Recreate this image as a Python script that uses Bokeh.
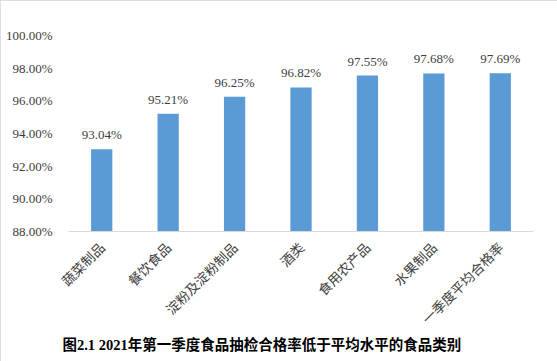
import math
from bokeh.plotting import figure
from bokeh.models import ColumnDataSource, Range1d, FixedTicker, PrintfTickFormatter, LabelSet, Title
from bokeh.embed import file_html
from bokeh.resources import INLINE

categories = ["蔬菜制品", "餐饮食品", "淀粉及淀粉制品", "酒类", "食用农产品", "水果制品", "一季度平均合格率"]
rates = [93.04, 95.21, 96.25, 96.82, 97.55, 97.68, 97.69]
rate_labels = ["93.04%", "95.21%", "96.25%", "96.82%", "97.55%", "97.68%", "97.69%"]
y_ticks = [88, 90, 92, 94, 96, 98, 100]
title_text = "图2.1 2021年第一季度食品抽检合格率低于平均水平的食品类别"

SERIF = "'Liberation Serif', serif"

src = ColumnDataSource(dict(cat=categories, rate=rates, lab=rate_labels))

p = figure(width=557, height=361, x_range=categories, y_range=Range1d(88, 100),
           output_backend="svg", toolbar_location=None,
           min_border_left=68, min_border_right=24, min_border_top=35, min_border_bottom=130)
p.styles = {"outline": "1px solid #d4d4d4", "outline-offset": "-1px"}
p.outline_line_color = None
p.xgrid.grid_line_color = None
p.ygrid.grid_line_color = None

p.vbar(x="cat", top="rate", bottom=88, width=0.32, source=src, fill_color="#5B9BD5", line_color=None)

labels = LabelSet(x="cat", y="rate", text="lab", source=src, y_offset=10, text_align="center",
                  text_baseline="alphabetic", text_font=SERIF, text_font_size="13px",
                  text_color="#404040")
p.add_layout(labels)

p.yaxis.ticker = FixedTicker(ticks=y_ticks)
p.yaxis.formatter = PrintfTickFormatter(format="%.2f%%")
p.yaxis.axis_line_color = None
p.yaxis.major_tick_line_color = None
p.yaxis.minor_tick_line_color = None
p.yaxis.major_label_text_font = SERIF
p.yaxis.major_label_text_font_size = "13px"
p.yaxis.major_label_text_color = "#404040"
p.yaxis.major_label_standoff = 10

p.xaxis.axis_line_color = "#d9d9d9"
p.xaxis.major_tick_line_color = None
p.xaxis.minor_tick_line_color = None
p.xaxis.major_label_orientation = math.pi / 4
p.xaxis.major_label_text_font = "Noto Sans CJK SC"
p.xaxis.major_label_text_font_size = "13.5px"
p.xaxis.major_label_text_color = "#404040"
p.xaxis.major_label_standoff = 7

title = Title(text=title_text, align="left", offset=-6, standoff=-8,
              text_font="'Liberation Serif', 'Noto Sans CJK SC', serif", text_font_size="14.5px",
              text_font_style="bold", text_color="#000000")
p.add_layout(title, "below")

open("out.html", "w").write(file_html(p, INLINE))
